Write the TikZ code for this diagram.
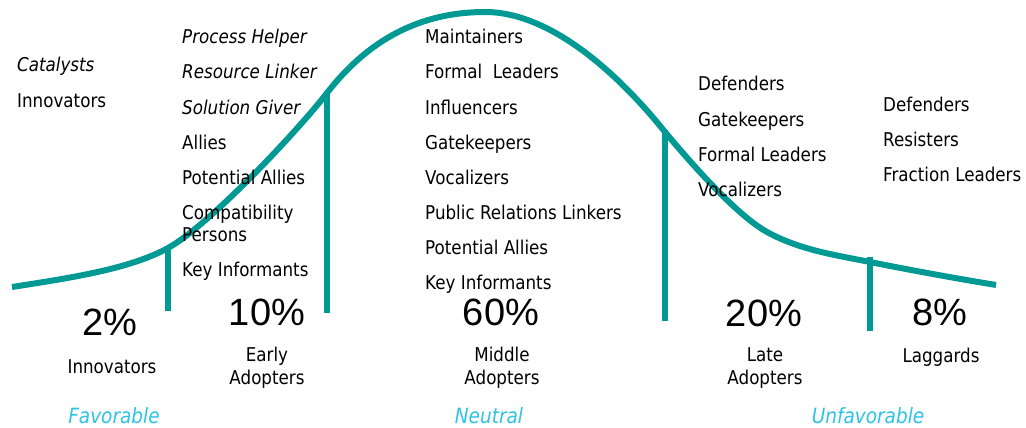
\documentclass[tikz,border=0pt]{standalone}
\usepackage{fontspec}
\setmainfont{DejaVu Sans}[FakeStretch=0.88]
\newfontfamily\pctfont{Liberation Sans}
\definecolor{curveteal}{RGB}{0,153,148}
\definecolor{zonecyan}{RGB}{45,195,230}
\begin{document}
\begin{tikzpicture}[x=1pt,y=-1pt,
  lbl/.style={anchor=base west,inner sep=0pt,font=\fontsize{19}{22}\selectfont},
  ilbl/.style={lbl,font=\fontsize{19}{22}\selectfont\itshape},
  pct/.style={anchor=center,inner sep=0pt,font=\pctfont\fontsize{38}{40}\selectfont},
  grp/.style={anchor=center,inner sep=0pt,align=center,font=\fontsize{19}{23}\selectfont},
  zone/.style={anchor=center,inner sep=0pt,text=zonecyan,font=\fontsize{21}{24}\selectfont\itshape},
  bell/.style={draw=curveteal,line width=6pt,line cap=butt,line join=round},
  divider/.style={draw=curveteal,line width=6pt,line cap=butt}]
\useasboundingbox (0,0) rectangle (1026,428);

% adoption curve, built from cubic pieces with matching tangents
\coordinate (k0) at (12,287);
\coordinate (k1) at (168,248);
\coordinate (k2) at (327,93);
\coordinate (k3) at (485,12);
\coordinate (k4) at (665,132);
\coordinate (k5) at (767,232);
\coordinate (k6) at (870,262);
\coordinate (k7) at (996,285);
\draw[bell] (k0)
  .. controls (70,278) and (130,269) .. (k1)
  .. controls (210,225) and (300,128) .. (k2)
  .. controls (368,40) and (420,12) .. (k3)
  .. controls (555,12) and (625,82) .. (k4)
  .. controls (700,174) and (740,217) .. (k5)
  .. controls (800,250) and (835,255) .. (k6)
  .. controls (920,272) and (960,279) .. (k7);

% segment dividers
\coordinate (d1t) at (168,246); \coordinate (d1b) at (168,311);
\coordinate (d2t) at (327,91);  \coordinate (d2b) at (327,313);
\coordinate (d3t) at (665,130); \coordinate (d3b) at (665,321);
\coordinate (d4t) at (870,257); \coordinate (d4b) at (870,331);
\draw[divider] (d1t) -- (d1b);
\draw[divider] (d2t) -- (d2b);
\draw[divider] (d3t) -- (d3b);
\draw[divider] (d4t) -- (d4b);

% innovators
\node[ilbl] (c1a) at (17,72) {Catalysts};
\node[lbl]  (c1b) at (17,107) {Innovators};

% early adopters
\node[ilbl] (c2a) at (182,44) {Process Helper};
\node[ilbl] (c2b) at (182,79) {Resource Linker};
\node[ilbl] (c2c) at (182,114) {Solution Giver};
\node[lbl]  (c2d) at (182,149) {Allies};
\node[lbl]  (c2e) at (182,184) {Potential Allies};
\node[lbl]  (c2f) at (182,219) {Compatibility};
\node[lbl]  (c2g) at (182,241) {Persons};
\node[lbl]  (c2h) at (182,276) {Key Informants};

% middle adopters
\node[lbl] (c3a) at (425,44) {Maintainers};
\node[lbl] (c3b) at (425,79) {Formal\ \ Leaders};
\node[lbl] (c3c) at (425,114) {Influencers};
\node[lbl] (c3d) at (425,149) {Gatekeepers};
\node[lbl] (c3e) at (425,184) {Vocalizers};
\node[lbl] (c3f) at (425,219) {Public Relations Linkers};
\node[lbl] (c3g) at (425,254) {Potential Allies};
\node[lbl] (c3h) at (425,289) {Key Informants};

% late adopters
\node[lbl] (c4a) at (698,91) {Defenders};
\node[lbl] (c4b) at (698,126) {Gatekeepers};
\node[lbl] (c4c) at (698,161) {Formal Leaders};
\node[lbl] (c4d) at (698,196) {Vocalizers};

% laggards
\node[lbl] (c5a) at (883,111) {Defenders};
\node[lbl] (c5b) at (883,146) {Resisters};
\node[lbl] (c5c) at (883,181) {Fraction Leaders};

% shares
\node[pct] (p1) at (110,322) {2\%};
\node[pct] (p2) at (267,312) {10\%};
\node[pct] (p3) at (501,312) {60\%};
\node[pct] (p4) at (764,313) {20\%};
\node[pct] (p5) at (940,312) {8\%};

% group names
\node[grp] (g1) at (112,367) {Innovators};
\node[grp] (g2) at (267,368) {Early\\Adopters};
\node[grp] (g3) at (502,368) {Middle\\Adopters};
\node[grp] (g4) at (765,368) {Late\\Adopters};
\node[grp] (g5) at (941,357) {Laggards};

% attitude zones
\node[zone] (z1) at (114,416) {Favorable};
\node[zone] (z2) at (489,416) {Neutral};
\node[zone] (z3) at (868,416) {Unfavorable};
\end{tikzpicture}
\end{document}
